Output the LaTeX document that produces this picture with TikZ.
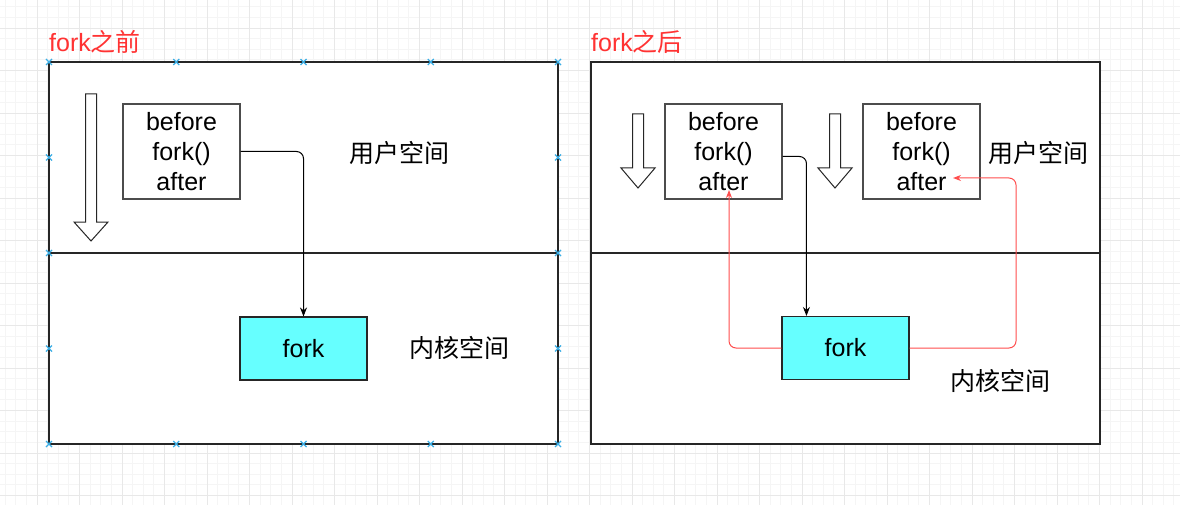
\documentclass[tikz,border=0pt]{standalone}
\usepackage{fontspec}
\setmainfont{Liberation Sans}
\newfontfamily\cjk{Noto Sans CJK SC}
\usetikzlibrary{arrows.meta}
\definecolor{forkcyan}{HTML}{66FFFF}
\definecolor{titlered}{HTML}{FF3333}
\definecolor{linered}{HTML}{FF4D4D}
\definecolor{handleblue}{HTML}{3AAEE6}
\tikzset{
	minorgrid/.style={draw=black!4, line width=0.8pt},
	majorgrid/.style={draw=black!9, line width=0.9pt},
	panel/.style={draw=black!85, fill=white, line width=1.1pt},
	txt/.style={font=\fontsize{25}{30}\selectfont, inner sep=0pt},
	codebox/.style={txt, draw=black!70, line width=1.1pt, fill=white, align=center, minimum width=117pt, minimum height=95pt},
	forkbox/.style={txt, draw=black!85, line width=1.1pt, fill=forkcyan, minimum width=127pt, minimum height=63pt},
	hollow/.style={draw=black!85, fill=white, line width=1pt},
	call/.style={draw=black, line width=1pt, rounded corners=7pt, -{Stealth[length=9pt, width=7pt]}},
	back/.style={draw=linered, line width=1pt, rounded corners=7pt, -{Stealth[length=8pt, width=6pt]}},
	handle/.style={draw=handleblue, line width=1.1pt}
}
\newcommand{\downshape}[4]{% centre x, top, head base, tip
	\draw[hollow] ({#1-5.5},#2) -- ({#1+5.5},#2) -- ({#1+5.5},#3) -- ({#1+17},#3)
		-- (#1,#4) -- ({#1-17},#3) -- ({#1-5.5},#3) -- cycle;}
\begin{document}
\begin{tikzpicture}[x=1pt, y=-1pt]
	\useasboundingbox (0,0) rectangle (1180,505);
	\fill[white] (0,0) rectangle (1180,505);
	% background grid
	\foreach \i in {-3,...,107} \draw[minorgrid] ({37+\i*10.625},0) -- ({37+\i*10.625},505);
	\foreach \j in {-2,...,44} \draw[minorgrid] (0,{28+\j*10.625}) -- (1180,{28+\j*10.625});
	\foreach \i in {0,...,26} \draw[majorgrid] ({37+\i*42.5},0) -- ({37+\i*42.5},505);
	\foreach \j in {0,...,11} \draw[majorgrid] (0,{28+\j*42.5}) -- (1180,{28+\j*42.5});

	% before fork
	\node (title1) at (49,42) [txt, anchor=west, text=titlered] {fork{\cjk 之前}};
	\draw[panel] (49,62) rectangle (558,444);
	\draw[panel] (49,253) -- (558,253);
	\downshape{91}{94}{222}{241}
	\node (prog1) at (181.5,151.5) [codebox] {before\\fork()\\after};
	\node (user1) at (399,153) [txt] {\cjk 用户空间};
	\node (fork1) at (303.5,348.5) [forkbox] {fork};
	\node (kern1) at (459,348) [txt] {\cjk 内核空间};
	\draw[call] (prog1.east) -| (fork1.north);
	\foreach \hx in {49,176.25,303.5,430.75,558} {
		\draw[handle] (\hx-3,59) -- (\hx+3,65) (\hx-3,65) -- (\hx+3,59);
		\draw[handle] (\hx-3,441) -- (\hx+3,447) (\hx-3,447) -- (\hx+3,441);
	}
	\foreach \hy in {157.5,253,348.5} {
		\draw[handle] (46,\hy-3) -- (52,\hy+3) (46,\hy+3) -- (52,\hy-3);
		\draw[handle] (555,\hy-3) -- (561,\hy+3) (555,\hy+3) -- (561,\hy-3);
	}

	% after fork
	\node (title2) at (591,42) [txt, anchor=west, text=titlered] {fork{\cjk 之后}};
	\draw[panel] (591,62) rectangle (1100,444);
	\draw[panel] (591,253) -- (1100,253);
	\downshape{638}{114}{168}{188}
	\downshape{835}{114}{168}{188}
	\node (parent) at (723.5,151.5) [codebox] {before\\fork()\\after};
	\node (child) at (921.5,151.5) [codebox] {before\\fork()\\after};
	\node (user2) at (1038,153) [txt] {\cjk 用户空间};
	\node (fork2) at (845.5,348) [forkbox] {fork};
	\node (kern2) at (1000,381) [txt] {\cjk 内核空间};
	\coordinate (ret1) at (729,190);
	\coordinate (turn2) at (1016,178);
	\coordinate (ret2) at (953,178);
	\draw[call] ([yshift=-5pt]parent.east) -| ([xshift=25pt]fork2.north west);
	\draw[back] (fork2.west) -| (ret1);
	\draw[back] (fork2.east) -| (turn2) -- (ret2);
\end{tikzpicture}
\end{document}
